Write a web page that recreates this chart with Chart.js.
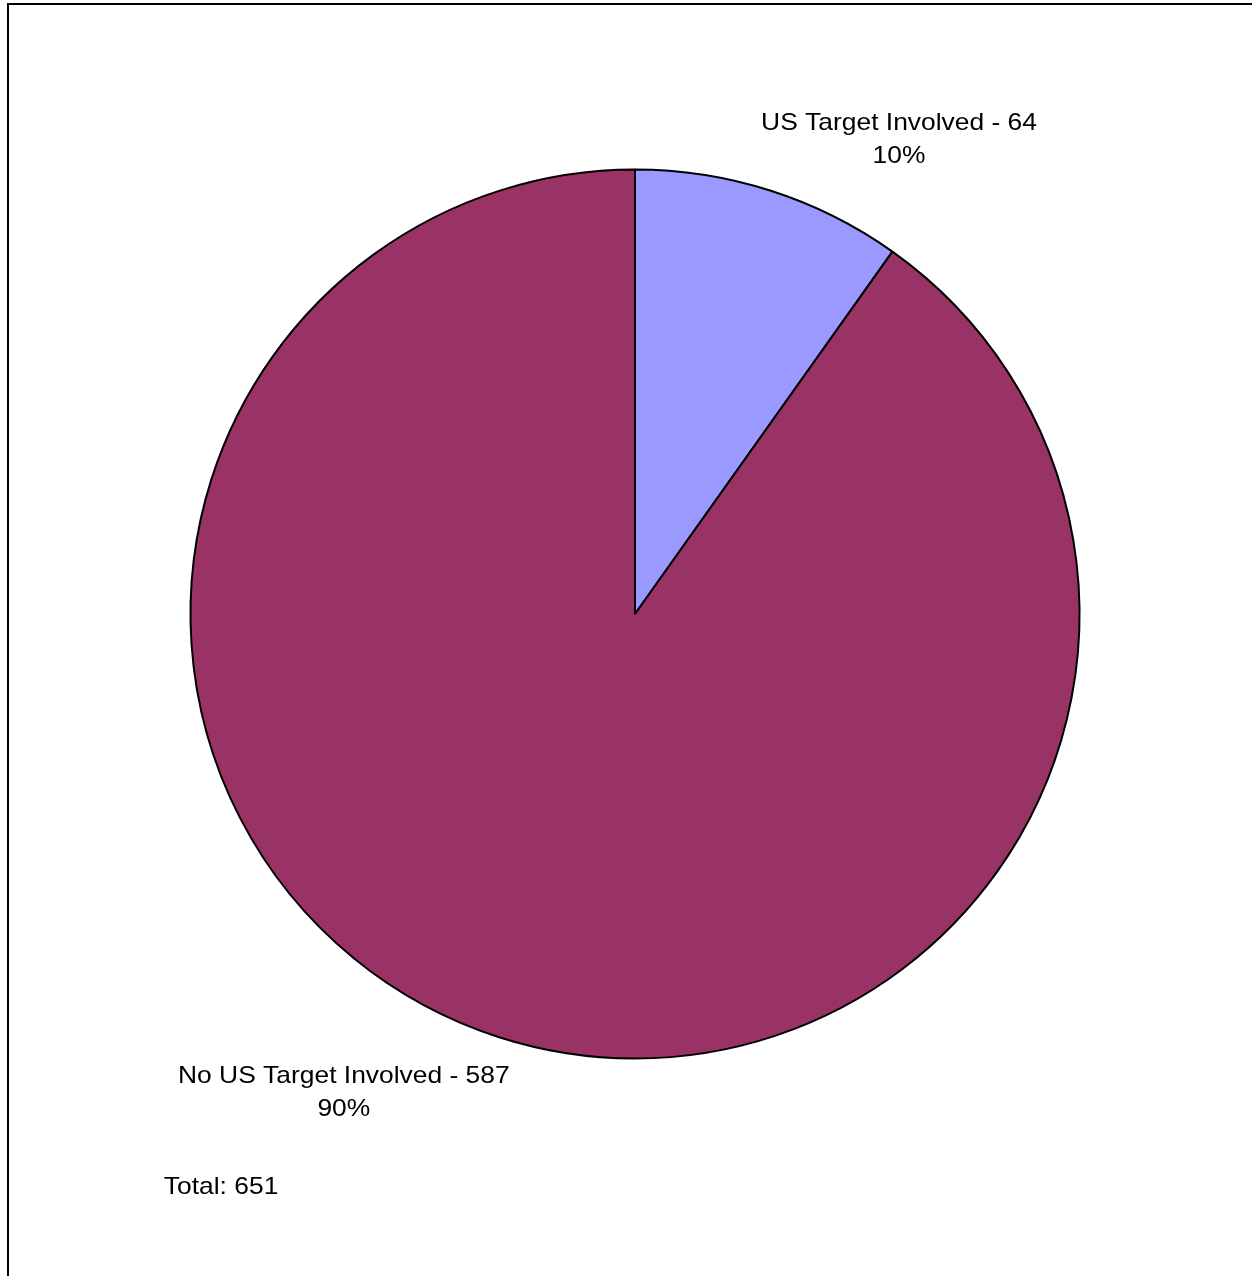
<!DOCTYPE html>
<html>
<head>
<meta charset="utf-8">
<script src="https://cdn.jsdelivr.net/npm/chart.js@4"></script>
<style>
  html, body { margin: 0; padding: 0; background: #fff; }
  #wrap { position: relative; width: 1252px; height: 1276px; overflow: hidden; }
  #frame { position: absolute; left: 7px; top: 3px; right: -10px; bottom: -10px;
           border-left: 2px solid #000; border-top: 2px solid #000; pointer-events: none; }
  canvas { position: absolute; left: 0; top: 0; }
</style>
</head>
<body>
<div id="wrap">
  <canvas id="c" width="1252" height="1276"></canvas>
  <div id="frame"></div>
</div>
<script>
const categories = ["US Target Involved", "No US Target Involved"];
const counts = [64, 587];
const sliceColors = ["#9999FF", "#993366"];
const totalLabel = "Total";

const total = counts.reduce((a, b) => a + b, 0);

// label anchor offsets (in units of pie radius, relative to pie centre)
const labelOffsets = [[0.594, -1.089], [-0.655, 1.055]];
const totalOffset = [-1.06, 1.305];

const labelPlugin = {
  id: 'excelLabels',
  afterDraw(chart) {
    const ctx = chart.ctx;
    const meta = chart.getDatasetMeta(0);
    const arc0 = meta.data[0];
    const cx = arc0.x, cy = arc0.y, r = arc0.outerRadius;
    const fontSize = 24, sx = 1.1, lh = 33;
    ctx.save();
    ctx.fillStyle = '#000';
    ctx.font = fontSize + 'px "Liberation Sans", Arial, Helvetica, sans-serif';
    ctx.textBaseline = 'alphabetic';
    const drawText = (txt, x, y, align) => {
      ctx.save();
      ctx.translate(x, y);
      ctx.scale(sx, 1);
      ctx.textAlign = align;
      ctx.fillText(txt, 0, 0);
      ctx.restore();
    };
    categories.forEach((cat, i) => {
      const x = cx + labelOffsets[i][0] * r;
      const y = cy + labelOffsets[i][1] * r;
      const pct = Math.round(counts[i] / total * 100) + '%';
      drawText(cat + ' - ' + counts[i], x, y, 'center');
      drawText(pct, x, y + lh, 'center');
    });
    drawText(totalLabel + ': ' + total, cx + totalOffset[0] * r, cy + totalOffset[1] * r, 'left');
    ctx.restore();
  }
};

new Chart(document.getElementById('c'), {
  type: 'pie',
  data: {
    labels: categories,
    datasets: [{
      data: counts,
      backgroundColor: sliceColors,
      borderColor: '#000',
      borderWidth: 2,
      borderAlign: 'center'
    }]
  },
  options: {
    responsive: false,
    animation: false,
    devicePixelRatio: 1,
    layout: { padding: { top: 168.5, bottom: 216.5, left: 189.5, right: 171.5 } },
    plugins: {
      legend: { display: false },
      tooltip: { enabled: false },
      title: { display: false }
    }
  },
  plugins: [labelPlugin]
});
</script>
</body>
</html>
